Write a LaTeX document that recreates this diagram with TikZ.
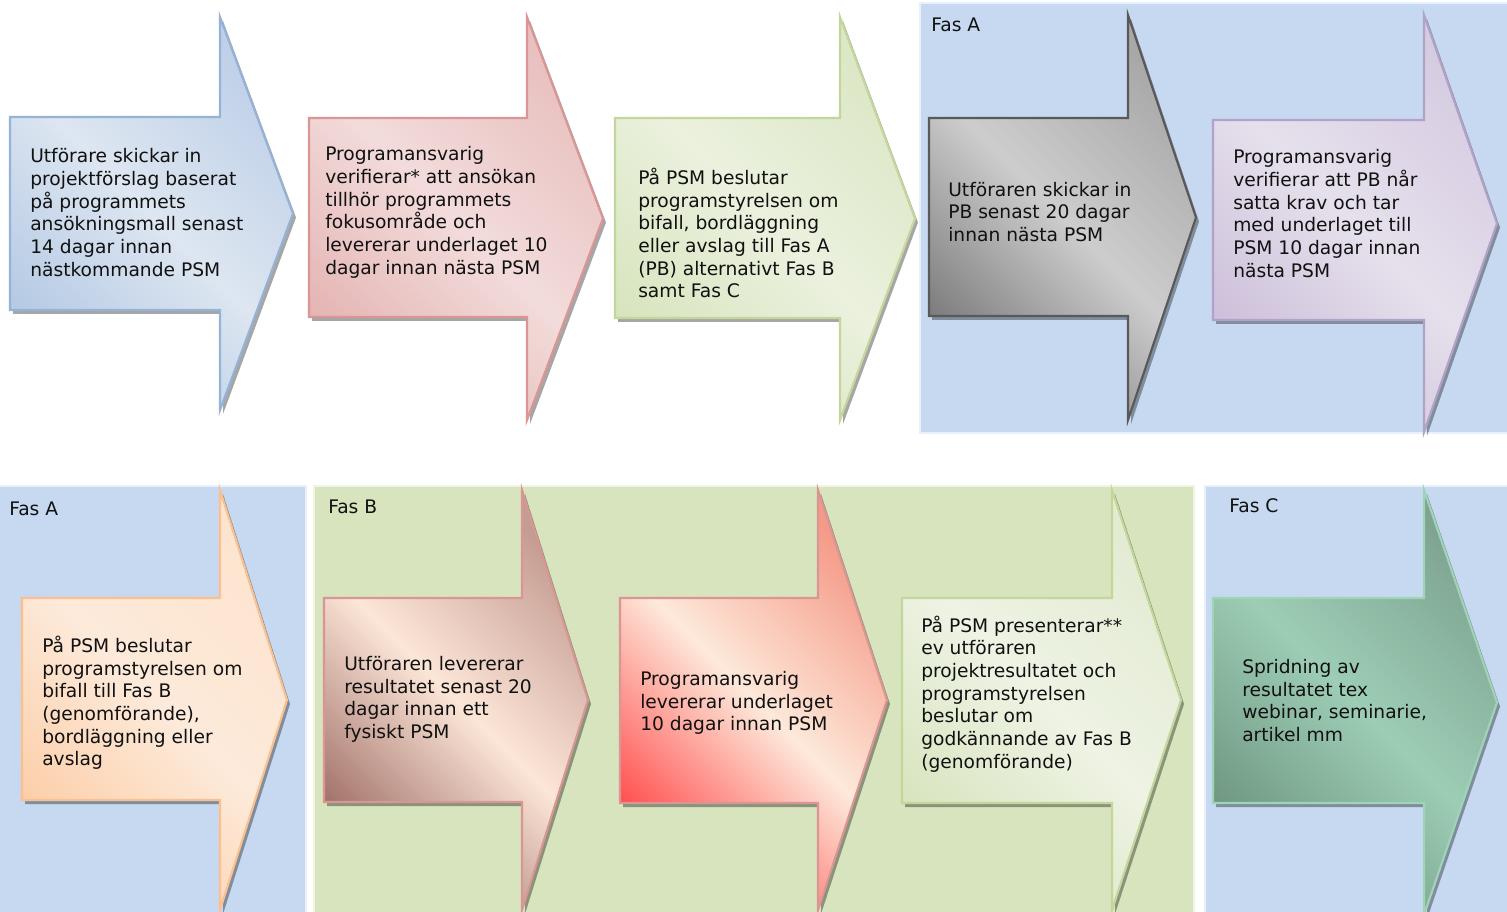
\documentclass[tikz,border=0pt]{standalone}
\usepackage{fontspec}
\setmainfont{DejaVu Sans}
\usetikzlibrary{calc}
\definecolor{panelblue}{HTML}{C6D9F0}
\definecolor{panelgreen}{HTML}{D7E4BD}
\definecolor{txtc}{HTML}{111111}
\tikzset{
  shadowfill/.style={fill=black,fill opacity=0.35,draw=none},
  txt/.style={anchor=west,align=left,inner sep=0pt,font=\fontsize{14}{17}\selectfont,text=txtc},
  fas/.style={anchor=west,inner sep=0pt,font=\fontsize{14}{17}\selectfont,text=txtc},
  panel/.style={draw=white!60!#1,line width=0.8pt,fill=#1},
  arrbase/.style={line width=1.6pt,line join=miter},
  sh/.style n args={3}{left color=#1,right color=#3,middle color=#2,shading angle=135},
}
\tikzset{
  a1/.style={arrbase,draw={rgb,255:red,149;green,179;blue,215},sh={{rgb,255:red,180;green,201;blue,228}}{{rgb,255:red,221;green,230;blue,241}}{{rgb,255:red,191;green,208;blue,232}}},
  a2/.style={arrbase,draw={rgb,255:red,217;green,150;blue,148},sh={{rgb,255:red,228;green,180;blue,179}}{{rgb,255:red,242;green,220;blue,219}}{{rgb,255:red,232;green,192;blue,191}}},
  a3/.style={arrbase,draw={rgb,255:red,195;green,214;blue,155},sh={{rgb,255:red,215;green,228;blue,189}}{{rgb,255:red,235;green,241;blue,222}}{{rgb,255:red,220;green,231;blue,198}}},
  a4/.style={arrbase,draw={rgb,255:red,89;green,89;blue,89},sh={{rgb,255:red,122;green,122;blue,122}}{{rgb,255:red,205;green,205;blue,205}}{{rgb,255:red,168;green,168;blue,168}}},
  a5/.style={arrbase,draw={rgb,255:red,179;green,162;blue,199},sh={{rgb,255:red,203;green,190;blue,217}}{{rgb,255:red,230;green,224;blue,236}}{{rgb,255:red,214;green,204;blue,226}}},
  a6/.style={arrbase,draw={rgb,255:red,250;green,192;blue,144},sh={{rgb,255:red,252;green,205;blue,166}}{{rgb,255:red,253;green,234;blue,218}}{{rgb,255:red,253;green,228;blue,207}}},
  a7/.style={arrbase,draw={rgb,255:red,217;green,150;blue,148},sh={{rgb,255:red,159;green,110;blue,102}}{{rgb,255:red,252;green,230;blue,216}}{{rgb,255:red,197;green,156;blue,146}}},
  a8/.style={arrbase,draw={rgb,255:red,217;green,150;blue,148},sh={{rgb,255:red,255;green,75;blue,75}}{{rgb,255:red,253;green,233;blue,218}}{{rgb,255:red,245;green,154;blue,136}}},
  a9/.style={arrbase,draw={rgb,255:red,195;green,214;blue,155},sh={{rgb,255:red,215;green,228;blue,189}}{{rgb,255:red,238;green,243;blue,228}}{{rgb,255:red,227;green,235;blue,211}}},
  a10/.style={arrbase,draw={rgb,255:red,160;green,212;blue,184},sh={{rgb,255:red,110;green,149;blue,128}}{{rgb,255:red,157;green,205;blue,181}}{{rgb,255:red,127;green,165;blue,146}}},
}
% #1 style, #2 x0, #3 y0, #4 y1, #5 xh, #6 yh0, #7 yh1, #8 xt
\newcommand\harrow[8]{%
  \path[shadowfill] ({#2+3},{#3+4}) -- ({#5+3},{#3+4}) -- ({#5+3},{#6+4}) -- ({#8+3},{(#6+#7)/2+4}) -- ({#5+3},{#7+4}) -- ({#5+3},{#4+4}) -- ({#2+3},{#4+4}) -- cycle;
  \path[#1] (#2,#3) -- (#5,#3) -- (#5,#6) -- (#8,{(#6+#7)/2}) -- (#5,#7) -- (#5,#4) -- (#2,#4) -- cycle;
}
\begin{document}
\begin{tikzpicture}[x=0.75pt,y=-0.75pt]
\useasboundingbox (0,0) rectangle (1507,912);
\fill[white] (0,0) rectangle (1507,912);
% panels
\path[panel=panelblue] (920,3) rectangle (1509,433);
\path[panel=panelblue] (-2,486) rectangle (306,914);
\path[panel=panelgreen] (314,486) rectangle (1194,914);
\path[panel=panelblue] (1205,486) rectangle (1509,914);
\node[fas] (fasA1) at (931,25) {Fas A};
\node[fas] (fasA2) at (9,509) {Fas A};
\node[fas] (fasB) at (328,507) {Fas B};
\node[fas] (fasC) at (1229,506) {Fas C};
% row 1 arrows
\harrow{a1}{10}{117}{310}{220}{17}{410}{293}
\harrow{a2}{309}{118}{317}{527}{17}{420}{603}
\harrow{a3}{615}{118}{318}{840}{17}{420}{915}
\harrow{a4}{929}{118}{316}{1128}{15}{420}{1196}
\harrow{a5}{1213}{120}{320}{1424}{15}{432}{1497}
% row 2 arrows
\harrow{a6}{22}{598}{800}{220}{490}{910}{287}
\harrow{a7}{324}{598}{802}{522}{490}{910}{588}
\harrow{a8}{620}{598}{803}{818}{490}{910}{887}
\harrow{a9}{902}{598}{803}{1112}{490}{910}{1181}
\harrow{a10}{1213}{598}{803}{1424}{490}{915}{1497}
% texts
\node[txt] (t1) at (30,212.5) {Utförare skickar in\\projektförslag baserat\\på programmets\\ansökningsmall senast\\14 dagar innan\\nästkommande PSM};
\node[txt] (t2) at (325,212.5) {Programansvarig\\verifierar* att ansökan\\tillhör programmets\\fokusområde och\\levererar underlaget 10\\dagar innan nästa PSM};
\node[txt] (t3) at (638,233) {På PSM beslutar\\programstyrelsen om\\bifall, bordläggning\\eller avslag till Fas A\\(PB) alternativt Fas B\\samt Fas C};
\node[txt] (t4) at (948,212) {Utföraren skickar in\\PB senast 20 dagar\\innan nästa PSM};
\node[txt] (t5) at (1233,213.5) {Programansvarig\\verifierar att PB når\\satta krav och tar\\med underlaget till\\PSM 10 dagar innan\\nästa PSM};
\node[txt] (t6) at (42,703) {På PSM beslutar\\programstyrelsen om\\bifall till Fas B\\(genomförande),\\bordläggning eller\\avslag};
\node[txt] (t7) at (344,699.5) {Utföraren levererar\\resultatet senast 20\\dagar innan ett\\fysiskt PSM};
\node[txt] (t8) at (640,703) {Programansvarig\\levererar underlaget\\10 dagar innan PSM};
\node[txt] (t9) at (921,694) {På PSM presenterar**\\ev utföraren\\projektresultatet och\\programstyrelsen\\beslutar om\\godkännande av Fas B\\(genomförande)};
\node[txt] (t10) at (1242,700.5) {Spridning av\\resultatet tex\\webinar, seminarie,\\artikel mm};
\end{tikzpicture}
\end{document}
